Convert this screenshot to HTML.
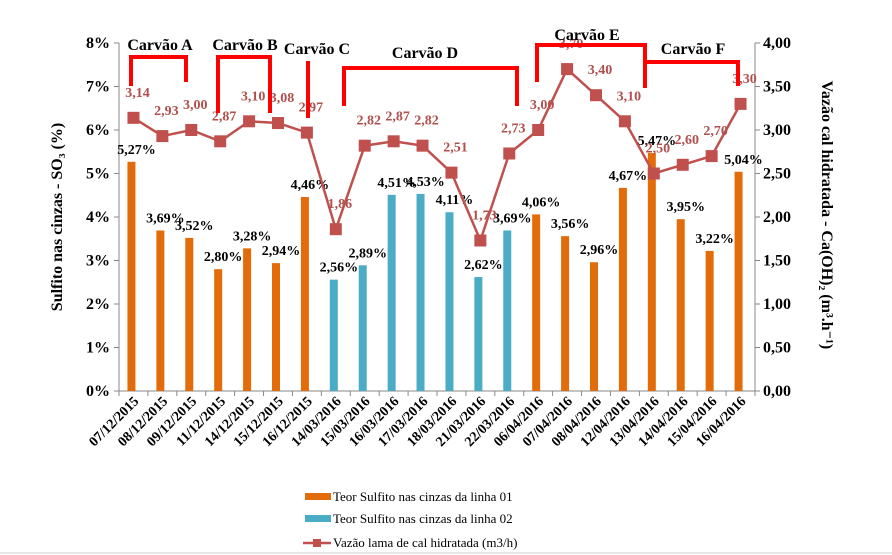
<!DOCTYPE html>
<html><head><meta charset="utf-8"><style>
body{margin:0;background:#fff}
svg{display:block}
svg text{font-family:"Liberation Serif","DejaVu Serif",serif}
</style></head><body>
<svg id="c" width="892" height="555" font-family="Liberation Serif, serif">
<line x1="0" y1="553" x2="892" y2="553" stroke="#d0d0d0" stroke-width="1"/>
</svg>
<script>
const dates=["07/12/2015","08/12/2015","09/12/2015","11/12/2015","14/12/2015","15/12/2015","16/12/2015","14/03/2016","15/03/2016","16/03/2016","17/03/2016","18/03/2016","21/03/2016","22/03/2016","06/04/2016","07/04/2016","08/04/2016","12/04/2016","13/04/2016","14/04/2016","15/04/2016","16/04/2016"];
const linha01=[5.27,3.69,3.52,2.80,3.28,2.94,4.46,null,null,null,null,null,null,null,4.06,3.56,2.96,4.67,5.47,3.95,3.22,5.04];
const linha02=[null,null,null,null,null,null,null,2.56,2.89,4.51,4.53,4.11,2.62,3.69,null,null,null,null,null,null,null,null];
const vazao=[3.14,2.93,3.00,2.87,3.10,3.08,2.97,1.86,2.82,2.87,2.82,2.51,1.73,2.73,3.00,3.70,3.40,3.10,2.50,2.60,2.70,3.30];
const leftTicks=["0%","1%","2%","3%","4%","5%","6%","7%","8%"];
const rightTicks=["0,00","0,50","1,00","1,50","2,00","2,50","3,00","3,50","4,00"];
const NS="http://www.w3.org/2000/svg",svg=document.getElementById('c');
const X0=119,X1=755,Y0=391,Y8=43,n=dates.length,bw=(X1-X0)/n;
const cx=i=>X0+bw*(i+0.5);
const yL=v=>Y0-(Y0-Y8)*v/8;
const yR=v=>Y0-(Y0-Y8)*v/4;
function el(t,a,txt){const e=document.createElementNS(NS,t);for(const k in a)e.setAttribute(k,a[k]);if(t==='text')e.setAttribute('font-family','Liberation Serif, serif');if(txt!=null)e.textContent=txt;svg.appendChild(e);return e;}
const fmt=v=>v.toFixed(2).replace('.',',');
let e=el('line',{x1:X0,y1:Y8,x2:X0,y2:Y0,stroke:'#888'});


e=el('line',{x1:X1,y1:Y8,x2:X1,y2:Y0,stroke:'#888'});


e=el('line',{x1:X0,y1:Y0,x2:X1,y2:Y0,stroke:'#888'});


leftTicks.forEach((t,i)=>{const y=yL(i);
 el('line',{x1:X0-5,y1:y,x2:X0,y2:y,stroke:'#888'});
 e=el('text',{x:110,y:y+5,'text-anchor':'end','font-size':16,'font-weight':'bold'},t);
 
 
});
rightTicks.forEach((t,i)=>{const y=yR(i/2);
 el('line',{x1:X1,y1:y,x2:X1+5,y2:y,stroke:'#888'});
 e=el('text',{x:763,y:y+5,'font-size':16,'font-weight':'bold'},t);
 
 
});
for(let i=0;i<=n;i++){const x=X0+bw*i;el('line',{x1:x,y1:Y0,x2:x,y2:Y0+5,stroke:'#888'});}
dates.forEach((d,i)=>{const x=cx(i)+6,y=402;
 e=el('text',{x:x,y:y,'text-anchor':'end','font-size':14,'font-weight':'bold',transform:`rotate(-45 ${x} ${y})`},d);
 
 
});
function bars(arr,col,name){arr.forEach((v,i)=>{if(v==null)return;const x=cx(i)-6;
 e=el('rect',{x:x,y:yL(v),width:8,height:Y0-yL(v),fill:col});
 
 
 e=el('text',{x:x+9,y:yL(v)-8,'text-anchor':'middle','font-size':14,'font-weight':'bold'},fmt(v)+'%');
 
 
});}
bars(linha01,'#e36c0a','bar-linha-01');
bars(linha02,'#4bacc6','bar-linha-02');
e=el('polyline',{points:vazao.map((v,i)=>cx(i)+','+yR(v)).join(' '),fill:'none',stroke:'#c0504d','stroke-width':2.5});


vazao.forEach((v,i)=>{
 e=el('rect',{x:cx(i)-6,y:yR(v)-6,width:12,height:12,fill:'#c0504d'});
 
 
 e=el('text',{x:cx(i)+4,y:yR(v)-21,'text-anchor':'middle','font-size':14,'font-weight':'bold',fill:'#b0504d'},fmt(v));
 
 
});
const brk=[["131,86 131,57 186,57 186,82","Carvão A",160,50],["218,113 218,57 270,57 270,113","Carvão B",245,50],["308,118 308,61","Carvão C",317,54],["344,106 344,68 517,68 517,106","Carvão D",425,58],["537,82 537,45 645,45 645,88","Carvão E",587,40],["645,62 738,62 738,86","Carvão F",693,54]];
brk.forEach(b=>{
 e=el('polyline',{points:b[0],fill:'none',stroke:'#ff0000','stroke-width':4});
 
 
 e=el('text',{x:b[2],y:b[3],'text-anchor':'middle','font-size':16,'font-weight':'bold'},b[1]);
 
 
});
e=el('text',{x:62,y:217,'text-anchor':'middle','font-size':16,'font-weight':'bold',transform:'rotate(-90 62 217)'},'Sulfito nas cinzas - SO₃ (%)');


e=el('text',{x:822,y:215,'text-anchor':'middle','font-size':16,'font-weight':'bold',transform:'rotate(90 822 215)'},'Vazão cal hidratada - Ca(OH)₂ (m³.h⁻¹)');


e=el('rect',{x:305,y:493,width:26,height:7,fill:'#e36c0a'});


e=el('text',{x:333,y:501,'font-size':13},'Teor Sulfito nas cinzas da linha 01');


e=el('rect',{x:305,y:515,width:26,height:7,fill:'#4bacc6'});


e=el('text',{x:333,y:523,'font-size':13},'Teor Sulfito nas cinzas da linha 02');


e=el('line',{x1:303,y1:543,x2:331,y2:543,stroke:'#c0504d','stroke-width':2.5});


el('rect',{x:313,y:539,width:8,height:8,fill:'#c0504d'});
e=el('text',{x:333,y:547,'font-size':13},'Vazão lama de cal hidratada (m3/h)');


</script>
</body></html>
